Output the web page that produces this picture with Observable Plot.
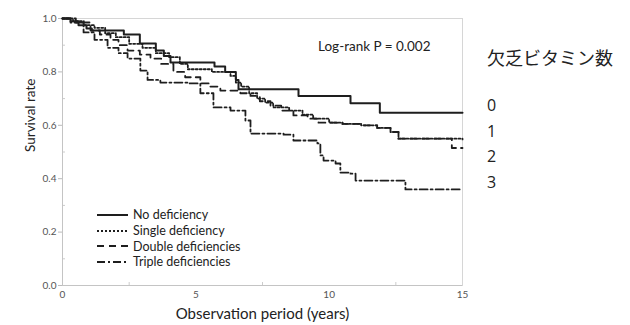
<!DOCTYPE html>
<html>
<head>
<meta charset="utf-8">
<script src="https://cdn.jsdelivr.net/npm/d3@7"></script>
<script src="https://cdn.jsdelivr.net/npm/@observablehq/plot@0.6"></script>
<style>
  body { margin: 0; background: #fff; }
  #wrap { position: relative; width: 630px; height: 325px; font-family: Lato, "Open Sans", sans-serif; }
  #legend { position: absolute; left: 97px; top: 207px; font-size: 12.5px; color: #222; }
  #legend .row { display: flex; align-items: center; height: 15.7px; }
  #legend svg { margin-right: 5px; }
  #jp { position: absolute; left: 487px; top: 44px; font-family: "Noto Sans CJK JP", sans-serif; color: #222; }
  #jp .title { font-size: 18px; line-height: 26px; margin-bottom: 23px; }
  #jp .n { font-family: "Open Sans", sans-serif; font-size: 16px; line-height: 25.5px; }
</style>
</head>
<body>
<div id="wrap"></div>
<script>
// ---- data ----
const seriesNames = ["No deficiency", "Single deficiency", "Double deficiencies", "Triple deficiencies"];
const jpTitle = "欠乏ビタミン数";
const jpCounts = ["0", "1", "2", "3"];
const annotation = "Log-rank P = 0.002";

const tNone = [0, 0.3, 0.6, 0.9, 1.1, 2.3, 2.9, 3.5, 3.8, 4.05, 5.7, 6.1, 6.5, 6.6, 8.85, 10.8, 11.9, 15];
const sNone = [1.0, 0.99, 0.975, 0.963, 0.955, 0.94, 0.906, 0.88, 0.86, 0.835, 0.82, 0.80, 0.77, 0.735, 0.71, 0.683, 0.647, 0.647];

const tSingle = [0, 0.4, 0.8, 1.2, 1.6, 2.0, 2.5, 3.0, 3.5, 4.0, 4.4, 4.7, 5.6, 6.3, 6.5, 6.7, 7.0, 7.3, 7.6, 7.9, 8.5, 9.0, 9.4, 10.0, 10.5, 11.2, 11.8, 12.3, 12.6, 15];
const sSingle = [1.0, 0.99, 0.975, 0.965, 0.945, 0.93, 0.905, 0.89, 0.87, 0.855, 0.83, 0.81, 0.80, 0.785, 0.76, 0.745, 0.72, 0.70, 0.685, 0.667, 0.655, 0.64, 0.625, 0.61, 0.605, 0.60, 0.59, 0.575, 0.55, 0.547];

const tDouble = [0, 0.5, 1.05, 1.4, 1.8, 2.1, 2.44, 2.9, 3.3, 3.7, 4.16, 4.6, 5.17, 5.5, 5.92, 6.67, 7.05, 7.4, 7.8, 8.2, 8.66, 9.19, 9.6, 10.5, 11.2, 11.8, 12.3, 12.6, 14.6, 15];
const sDouble = [1.0, 0.985, 0.955, 0.94, 0.92, 0.9, 0.88, 0.865, 0.85, 0.83, 0.80, 0.78, 0.757, 0.745, 0.73, 0.72, 0.71, 0.69, 0.674, 0.655, 0.637, 0.625, 0.61, 0.605, 0.60, 0.59, 0.575, 0.55, 0.515, 0.515];

const tTriple = [0, 0.3, 0.79, 1.2, 1.69, 2.1, 2.44, 2.92, 3.19, 3.67, 4.69, 5.17, 5.66, 6.3, 6.86, 7.05, 8.29, 8.66, 9.56, 9.67, 9.79, 10.24, 10.42, 10.8, 10.99, 12.86, 15];
const sTriple = [1.0, 0.985, 0.948, 0.92, 0.89, 0.87, 0.85, 0.805, 0.77, 0.76, 0.757, 0.72, 0.667, 0.655, 0.618, 0.569, 0.565, 0.543, 0.532, 0.487, 0.468, 0.457, 0.423, 0.419, 0.393, 0.36, 0.36];

const yTicks = [0, 0.2, 0.4, 0.6, 0.8, 1.0];
const yMinor = [0.1, 0.3, 0.5, 0.7, 0.9];
const xTicks = [0, 5, 10, 15];
const xMinor = [2.5, 7.5, 12.5];

// ---- build ----
const toRows = (ts, ss) => ts.map((t, i) => ({t, s: ss[i]}));
const series = [
  {rows: toRows(tNone, sNone), dash: null, w: 2},
  {rows: toRows(tSingle, sSingle), dash: "2,2", w: 1.8},
  {rows: toRows(tDouble, sDouble), dash: "7,5", w: 1.8},
  {rows: toRows(tTriple, sTriple), dash: "8,3,2,3", w: 1.8}
];
const ink = "#1e1e1e";

const chart = Plot.plot({
  width: 630, height: 325,
  marginLeft: 62, marginRight: 168, marginTop: 18, marginBottom: 40,
  style: {fontFamily: "Lato, 'Open Sans', sans-serif", background: "#fff"},
  x: {domain: [0, 15]},
  y: {domain: [0, 1]},
  marks: [
    Plot.frame({stroke: "#d6d6d6"}),
    Plot.axisY({ticks: yTicks, tickFormat: d3.format(".1f"), tickSize: 4, tickPadding: 2, stroke: "#bbb", color: "#555", fontSize: 10, label: null}),
    Plot.axisY({ticks: yMinor, tickSize: -3, text: null, stroke: "#ccc", label: null}),
    Plot.axisX({ticks: xTicks, tickSize: 0, tickPadding: 5, color: "#555", fontSize: 10, label: null}),
    Plot.axisX({ticks: xMinor, tickSize: -3, text: null, stroke: "#ccc", label: null}),
    Plot.ruleY([0], {stroke: "#c4c4c4"}),
    Plot.ruleX([0], {stroke: "#c4c4c4"}),
    ...series.map(d => Plot.line(d.rows, {x: "t", y: "s", curve: "step-after", stroke: ink, strokeWidth: d.w, strokeDasharray: d.dash})),
    Plot.text([annotation], {frameAnchor: "top-right", lineAnchor: "middle", dx: -32, dy: 28, textAnchor: "end", fontSize: 13.5, fill: "#222", text: d => d}),
    Plot.text(["Survival rate"], {frameAnchor: "left", lineAnchor: "middle", dx: -32, rotate: -90, fontSize: 13.5, fill: "#222", text: d => d}),
    Plot.text(["Observation period (years)"], {frameAnchor: "bottom", lineAnchor: "middle", dy: 29, fontSize: 15, fill: "#222", text: d => d})
  ]
});

const wrap = document.getElementById("wrap");
wrap.appendChild(chart);

// in-chart legend
const leg = document.createElement("div");
leg.id = "legend";
seriesNames.forEach((name, i) => {
  const row = document.createElement("div");
  row.className = "row";
  const dash = series[i].dash ? ` stroke-dasharray="${series[i].dash}"` : "";
  row.innerHTML = `<svg width="31" height="6"><line x1="0" y1="3" x2="31" y2="3" stroke="${ink}" stroke-width="${series[i].w}"${dash}/></svg><span>${name}</span>`;
  leg.appendChild(row);
});
wrap.appendChild(leg);

// right-side Japanese legend
const jp = document.createElement("div");
jp.id = "jp";
jp.innerHTML = `<div class="title">${jpTitle}</div>` + jpCounts.map(c => `<div class="n">${c}</div>`).join("");
wrap.appendChild(jp);
</script>
</body>
</html>
